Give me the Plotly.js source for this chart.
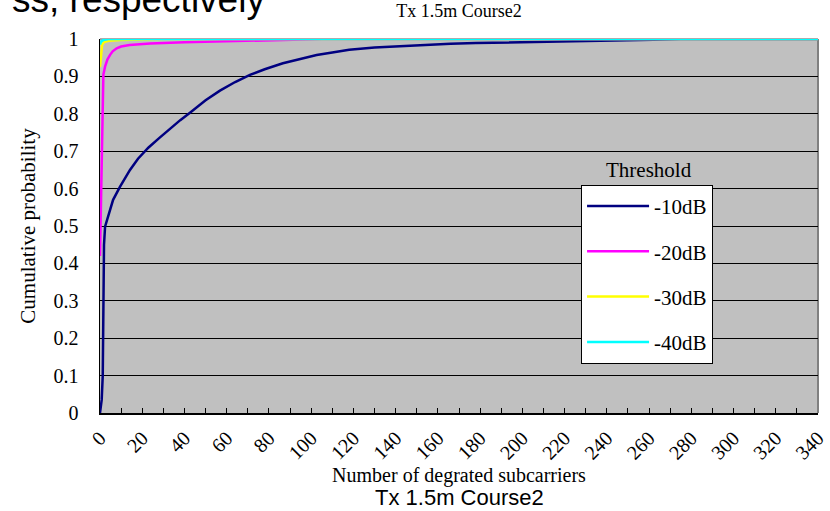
<!DOCTYPE html>
<html>
<head>
<meta charset="utf-8">
<script src="https://cdn.plot.ly/plotly-3.0.1.min.js"></script>
<style>
  html, body { margin: 0; padding: 0; background: #ffffff; }
  #chart { width: 830px; height: 511px; }
</style>
</head>
<body>
<div id="chart"></div>
<script>
// ---- Data ----
const seriesNames = ["-10dB", "-20dB", "-30dB", "-40dB"];

const x10 = [0, 0.8, 1.3, 1.6, 1.9, 2.4, 3.8, 6.2, 9.5, 14.2, 18, 23, 28, 33, 38, 42.6, 50, 56.8, 64, 71, 78, 86.6, 95, 102.6, 110, 118, 130, 142, 155, 166, 178, 189, 203, 215, 227, 240, 251, 262, 275, 340];
const y10 = [0, 0.035, 0.1, 0.3, 0.45, 0.498, 0.525, 0.57, 0.605, 0.65, 0.68, 0.71, 0.735, 0.76, 0.783, 0.803, 0.836, 0.862, 0.885, 0.904, 0.919, 0.935, 0.947, 0.957, 0.964, 0.971, 0.977, 0.981, 0.984, 0.987, 0.989, 0.99, 0.992, 0.993, 0.994, 0.995, 0.996, 0.998, 1, 1];

const x20 = [0, 0.4, 0.8, 1.2, 1.6, 2.4, 3.5, 4.7, 6, 7.9, 10, 14, 23.7, 40, 60, 85, 105, 340];
const y20 = [0.42, 0.55, 0.75, 0.87, 0.905, 0.926, 0.945, 0.957, 0.967, 0.975, 0.98, 0.984, 0.988, 0.991, 0.994, 0.997, 1, 1];

const x30 = [0, 0.5, 1, 2, 4, 10, 30, 340];
const y30 = [0.925, 0.965, 0.985, 0.992, 0.995, 0.997, 1, 1];

const x40 = [0, 0.5, 1.5, 4, 340];
const y40 = [0.985, 0.993, 0.997, 1, 1];

const xTickVals = [0, 20, 40, 60, 80, 100, 120, 140, 160, 180, 200, 220, 240, 260, 280, 300, 320, 340];
const yTickVals = [0, 0.1, 0.2, 0.3, 0.4, 0.5, 0.6, 0.7, 0.8, 0.9, 1];
const yTickText = ["0", "0.1", "0.2", "0.3", "0.4", "0.5", "0.6", "0.7", "0.8", "0.9", "1"];

const colors = ["#000080", "#FF00FF", "#FFFF00", "#00FFFF"];

// ---- Chart ----
const serif = "Liberation Serif, Times New Roman, serif";
const sans = "Liberation Sans, Arial, sans-serif";

const xs = [x10, x20, x30, x40];
const ys = [y10, y20, y30, y40];

const traces = seriesNames.map((name, i) => ({
  type: "scatter",
  mode: "lines",
  name: name,
  x: xs[i],
  y: ys[i],
  legendgroup: "g" + i,
  cliponaxis: false,
  line: { color: colors[i], width: 2.5 }
}));

const layout = {
  width: 830,
  height: 511,
  margin: { l: 100, r: 12, t: 39, b: 98 },
  paper_bgcolor: "#ffffff",
  plot_bgcolor: "#C0C0C0",
  showlegend: true,
  title: {
    text: "Tx 1.5m Course2",
    font: { family: serif, size: 18, color: "#000000" },
    x: 0.5, xref: "paper", xanchor: "center",
    y: 1, yref: "container", yanchor: "top", pad: { t: 4 }
  },
  xaxis: {
    range: [0, 340],
    tickmode: "array",
    tickvals: xTickVals,
    ticktext: xTickVals.map(String),
    tickangle: -45,
    ticks: "inside",
    ticklen: 5,
    tickcolor: "#000000",
    minor: { dtick: 10, ticks: "inside", ticklen: 5, tickcolor: "#000000", showgrid: false },
    ticklabelstandoff: 4,
    showgrid: false,
    zeroline: false,
    showline: true,
    linecolor: "#000000",
    linewidth: 1.5,
    tickfont: { family: serif, size: 20, color: "#000000" },
    title: {
      text: "Number of degrated subcarriers",
      font: { family: serif, size: 20, color: "#000000" },
      standoff: 2
    }
  },
  yaxis: {
    range: [0, 1],
    tickmode: "array",
    tickvals: yTickVals,
    ticktext: yTickText,
    ticks: "",
    ticklabelstandoff: 16,
    showgrid: true,
    gridcolor: "#000000",
    gridwidth: 1,
    zeroline: false,
    showline: true,
    linecolor: "#000000",
    linewidth: 1.5,
    tickfont: { family: serif, size: 20, color: "#000000" },
    title: {
      text: "Cumulative probability",
      font: { family: serif, size: 21, color: "#000000" },
      standoff: 12
    }
  },
  legend: {
    x: 0.67, xanchor: "left",
    y: 0.61, yanchor: "top",
    bgcolor: "#ffffff",
    bordercolor: "#000000",
    borderwidth: 1,
    traceorder: "grouped",
    tracegroupgap: 15,
    itemwidth: 62,
    font: { family: serif, size: 21, color: "#000000" }
  },
  shapes: [
    { type: "line", xref: "paper", yref: "paper", x0: 0, x1: 1, y0: 1, y1: 1,
      line: { color: "#909090", width: 1.5 }, layer: "below" },
    { type: "line", xref: "paper", yref: "paper", x0: 1, x1: 1, y0: 0, y1: 1,
      line: { color: "#808080", width: 2 }, layer: "below" }
  ],
  annotations: [
    { text: "Threshold", xref: "paper", yref: "paper", x: 0.7646, y: 0.65,
      xanchor: "center", yanchor: "middle", showarrow: false,
      font: { family: serif, size: 21, color: "#000000" } },
    { text: "Tx 1.5m Course2", xref: "paper", yref: "paper", x: 0.5, y: -0.226,
      xanchor: "center", yanchor: "middle", showarrow: false,
      font: { family: sans, size: 22, color: "#000000" } },
    { text: "ss, respectively", xref: "paper", yref: "paper", x: -0.126, y: 1.046,
      xanchor: "left", yanchor: "bottom", showarrow: false,
      font: { family: sans, size: 37, color: "#000000" } }
  ]
};

Plotly.newPlot("chart", traces, layout, { displayModeBar: false, staticPlot: true });
</script>
</body>
</html>
